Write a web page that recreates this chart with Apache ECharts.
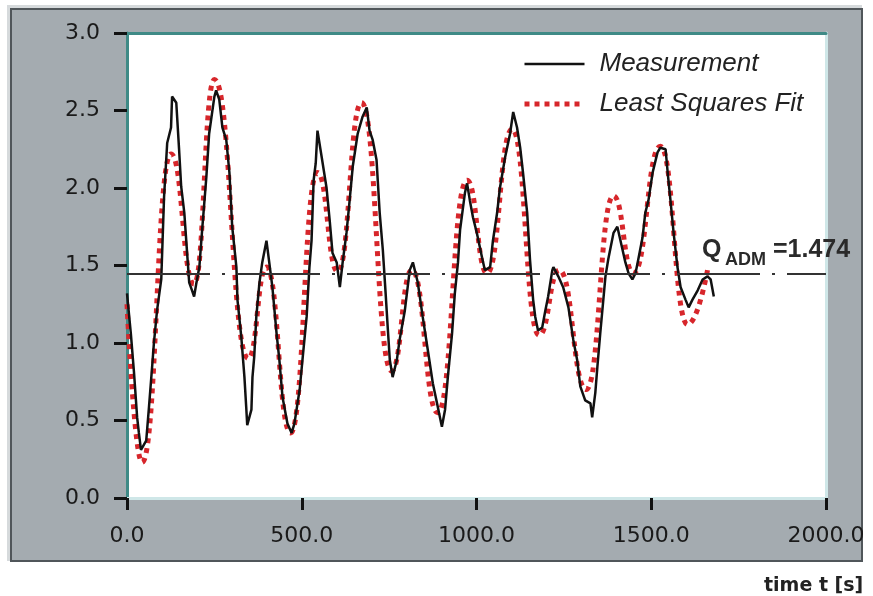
<!DOCTYPE html>
<html>
<head>
<meta charset="utf-8">
<script src="https://cdn.jsdelivr.net/npm/echarts@6/dist/echarts.min.js"></script>
<style>html,body{margin:0;padding:0;background:#fff;}#c{width:873px;height:596px;}</style>
</head>
<body>
<div id="c"></div>
<script>
// ---- data ----
const xTicks = [0, 500, 1000, 1500, 2000];
const yTicks = [0, 0.5, 1.0, 1.5, 2.0, 2.5, 3.0];
const refLevel = 1.45;
const refLabel = '=1.474';

const measT = [0,11,20,29,34,40,43,55,63,72,77,86,98,106,115,126,129,141,149,155,164,172,178,186,192,198,207,215,227,235,250,255,264,273,284,293,301,313,316,327,336,341,344,356,359,364,370,379,387,399,407,416,428,436,445,459,471,479,494,502,514,522,528,534,540,545,557,571,580,588,600,609,617,628,637,646,660,674,686,694,703,714,723,732,740,746,752,760,772,780,795,809,818,832,846,861,875,889,901,910,918,930,938,947,953,967,973,981,990,1001,1016,1024,1039,1047,1059,1067,1082,1096,1105,1116,1125,1133,1145,1153,1162,1168,1176,1188,1197,1205,1217,1220,1234,1248,1263,1277,1288,1297,1311,1326,1331,1340,1346,1354,1369,1377,1392,1403,1418,1426,1435,1446,1455,1463,1475,1483,1492,1504,1518,1526,1541,1547,1555,1564,1575,1584,1598,1607,1618,1633,1647,1661,1670,1679];
const measV = [1.32,1.06,0.81,0.52,0.42,0.31,0.30,0.37,0.59,0.85,1.00,1.21,1.41,1.94,2.29,2.39,2.59,2.55,2.25,2.01,1.84,1.58,1.39,1.34,1.30,1.38,1.49,1.73,2.07,2.35,2.59,2.63,2.57,2.39,2.31,2.10,1.75,1.49,1.28,1.04,0.78,0.59,0.47,0.57,0.78,0.91,1.17,1.39,1.52,1.66,1.52,1.36,1.06,0.89,0.65,0.48,0.42,0.48,0.70,0.89,1.17,1.49,1.66,2.05,2.16,2.37,2.20,2.00,1.79,1.58,1.52,1.36,1.52,1.71,1.92,2.14,2.35,2.46,2.52,2.37,2.31,2.18,1.84,1.60,1.32,1.10,0.89,0.78,0.89,1.02,1.21,1.47,1.52,1.39,1.17,0.95,0.74,0.59,0.46,0.57,0.78,1.06,1.32,1.52,1.73,1.97,2.03,1.92,1.81,1.71,1.55,1.47,1.49,1.66,1.84,2.00,2.20,2.35,2.49,2.39,2.26,2.10,1.84,1.54,1.28,1.17,1.08,1.10,1.21,1.30,1.47,1.49,1.43,1.36,1.23,1.02,0.89,0.72,0.63,0.61,0.52,0.68,0.85,1.06,1.43,1.54,1.71,1.75,1.60,1.52,1.45,1.41,1.45,1.54,1.68,1.84,1.92,2.10,2.23,2.26,2.25,2.10,1.92,1.71,1.49,1.36,1.28,1.23,1.28,1.34,1.41,1.43,1.41,1.30];

const fitT = [0,43,126,192,250,347,399,468,545,603,671,757,815,889,973,1030,1102,1179,1237,1314,1392,1449,1526,1604,1661];
const fitV = [1.25,0.23,2.22,1.38,2.70,0.90,1.49,0.42,2.10,1.46,2.55,0.82,1.47,0.55,2.05,1.45,2.38,1.05,1.47,0.70,1.95,1.45,2.27,1.12,1.47];

const measData = measT.map((t, i) => [t, measV[i]]);
const fitData = fitT.map((t, i) => [t, fitV[i]]);

const teal = '#3f8a86';
const cyan = '#cfe7e8';
const red = '#d7262b';
const tickFont = 'DejaVu Sans';

const chart = echarts.init(document.getElementById('c'), null, {renderer: 'canvas'});
const gridRect = {left: 127, right: 47, top: 33, bottom: 98};
const xBase = {type: 'value', min: xTicks[0], max: xTicks[xTicks.length - 1], interval: 500, splitLine: {show: false}};
const yBase = {type: 'value', min: yTicks[0], max: yTicks[yTicks.length - 1], interval: 0.5, splitLine: {show: false}};
const lineOnly = (color) => ({axisLine: {show: true, onZero: false, lineStyle: {color: color, width: 3}}, axisTick: {show: false}, axisLabel: {show: false}});

chart.setOption({
  animation: false,
  backgroundColor: '#ffffff',
  grid: [
    Object.assign({show: true, backgroundColor: '#ffffff', borderWidth: 0}, gridRect),
    Object.assign({show: false}, gridRect)
  ],
  title: {
    text: 'time t [s]', left: 759, top: 572,
    textStyle: {fontFamily: 'DejaVu Sans', fontWeight: 'bold', fontSize: 19, color: '#222'}
  },
  legend: {
    data: [
      {name: 'Measurement', lineStyle: {width: 2.5, color: '#111', type: 'solid'}},
      {name: 'Least Squares Fit', lineStyle: {width: 5, color: red, type: [5, 5]}}
    ],
    orient: 'vertical', left: 517, top: 46,
    itemWidth: 60, itemHeight: 14, itemGap: 14,
    itemStyle: {color: 'rgba(0,0,0,0)', borderColor: 'rgba(0,0,0,0)', borderWidth: 0},
    textStyle: {fontFamily: 'Liberation Sans', fontStyle: 'italic', fontSize: 26, color: '#222', padding: [0, 0, 0, 10]}
  },
  xAxis: [
    Object.assign({}, xBase, {gridIndex: 0, position: 'bottom'}, lineOnly(cyan)),
    Object.assign({}, xBase, {gridIndex: 0, position: 'top'}, lineOnly(teal)),
    Object.assign({}, xBase, {gridIndex: 1, position: 'bottom', offset: 7, axisLine: {show: false},
      axisTick: {show: true, length: 12, lineStyle: {color: '#111', width: 3}},
      axisLabel: {show: true, margin: 20, fontFamily: tickFont, fontSize: 22, color: '#1a1a1a', formatter: v => v.toFixed(1), showMinLabel: true, showMaxLabel: true}})
  ],
  yAxis: [
    Object.assign({}, yBase, {gridIndex: 0, position: 'left'}, lineOnly(teal)),
    Object.assign({}, yBase, {gridIndex: 0, position: 'right'}, lineOnly(cyan)),
    Object.assign({}, yBase, {gridIndex: 1, position: 'left', offset: 6, axisLine: {show: false},
      axisTick: {show: true, length: 13, lineStyle: {color: '#111', width: 3}},
      axisLabel: {show: true, margin: 21, fontFamily: tickFont, fontSize: 22, color: '#1a1a1a', formatter: v => v.toFixed(1)}})
  ],
  graphic: [
    {type: 'rect', z: -20, shape: {x: 7, y: 5, width: 855, height: 556}, style: {fill: '#d6dadc'}},
    {type: 'rect', z: -19, shape: {x: 11, y: 9, width: 851, height: 552}, style: {fill: '#a4abb0', stroke: '#50565a', lineWidth: 2}},
    {type: 'text', left: 702, top: 238, z: 10, style: {text: 'Q', font: 'bold 25px "Liberation Sans"', fill: '#2a2a2a'}},
    {type: 'text', left: 725, top: 251, z: 10, style: {text: 'ADM', font: 'bold 18px "Liberation Sans"', fill: '#2a2a2a'}},
    {type: 'text', left: 773, top: 238, z: 10, style: {text: refLabel, font: 'bold 25px "Liberation Sans"', fill: '#2a2a2a'}}
  ],
  series: [
    {
      name: 'Least Squares Fit', type: 'line', xAxisIndex: 0, yAxisIndex: 0,
      data: fitData, showSymbol: false, symbol: 'none',
      smooth: 0.5, smoothMonotone: 'x',
      lineStyle: {color: red, width: 5, type: [5, 5]},
      itemStyle: {color: red}, z: 2
    },
    {
      name: 'Measurement', type: 'line', xAxisIndex: 0, yAxisIndex: 0,
      data: measData, showSymbol: false, symbol: 'none',
      lineStyle: {color: '#111', width: 2.5},
      itemStyle: {color: '#111'}, z: 3,
      markLine: {
        silent: true, symbol: 'none', animation: false,
        label: {show: false},
        lineStyle: {color: '#333', width: 2, type: [83, 12, 3, 12]},
        data: [{yAxis: refLevel}]
      }
    }
  ]
});
</script>
</body>
</html>
